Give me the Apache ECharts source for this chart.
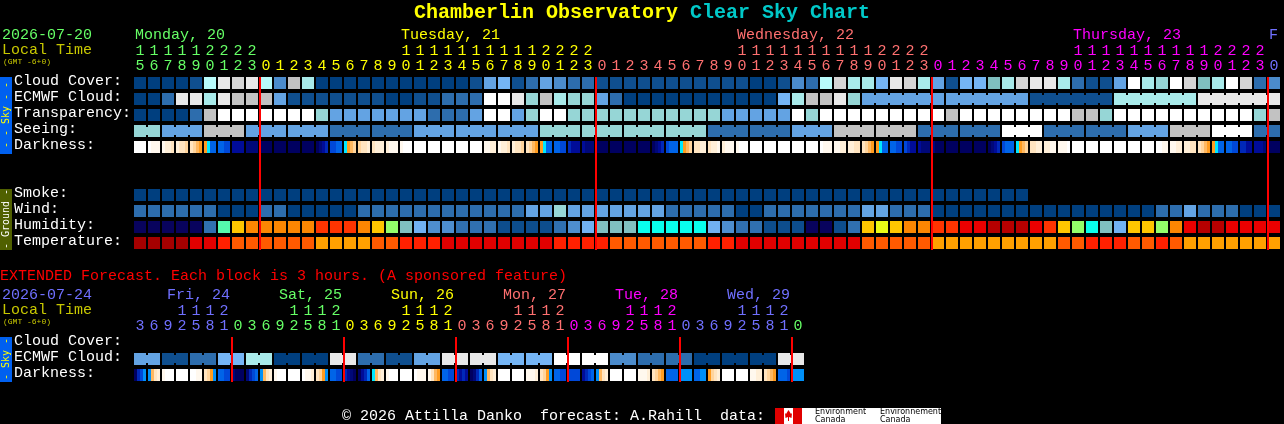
<!DOCTYPE html>
<html><head><meta charset="utf-8">
<style>html,body{margin:0;padding:0;background:#000}#c{width:1284px;height:424px}</style>
<script src="https://cdn.jsdelivr.net/npm/echarts@6/dist/echarts.min.js"></script>
</head><body><div id="c"></div>
<script>
const hourLabels=["15","16","17","18","19","20","21","22","23",
"0","1","2","3","4","5","6","7","8","9","10","11","12","13","14","15","16","17","18","19","20","21","22","23",
"0","1","2","3","4","5","6","7","8","9","10","11","12","13","14","15","16","17","18","19","20","21","22","23",
"0","1","2","3","4","5","6","7","8","9","10","11","12","13","14","15","16","17","18","19","20","21","22","23","0"];
const hourDayIdx=[0,0,0,0,0,0,0,0,0].concat(Array(24).fill(1),Array(24).fill(2),Array(24).fill(3),[4]);
const dayColors=["#66ff66","#ffff00","#ff7070","#ff00ff","#7070ff"];
const rowLabels=["Cloud Cover:","ECMWF Cloud:","Transparency:","Seeing:","Darkness:","","","Smoke:","Wind:","Humidity:","Temperature:"];
const cloudPalette=["#003f7f","#0f4f8f","#2d6dad","#4b8bcb","#63a3e3","#75b5f5","#7fbfbf","#96d6d6","#a8eaea","#b8fbfb","#c2c2c2","#d4d4d4","#e8e8e8","#ffffff"];
const humidityPalette=["#08035d","#0d4d8d","#3070b0","#4e8ece","#71b1f1","#80c0c0","#09feed","#55faad","#94fe6a","#eafb16","#fec600","#fc8602","#fe3401","#ea0000","#b70000"];
const temperaturePalette=["#a50000","#e10000","#ff2000","#ff5a00","#ffa000"];
const darknessPalette=["#ffffff","#fff8ee","#ffefd8","#ffe4c0","#ffd49c","#ffb860","#ff9c20","#00e8ff","#0090f8","#0064e8","#0048d8","#0028b8","#000c98","#000878","#000060"];

const cloudCover=[0,0,0,0,1,9,12,11,12,9,3,10,8,0,0,0,0,0,0,0,0,
0,0,0,1,4,5,1,2,4,3,2,2,1,1,1,1,1,1,1,1,1,1,1,0,0,1,3,2,9,11,8,
8,5,12,11,8,4,1,5,5,6,8,11,12,12,8,2,1,1,4,13,8,7,13,11,6,8,13,11,2,3];
const ecmwfCloud=[0,0,2,12,12,8,12,10,10,10,4,1,1,1,1,1,1,1,0,0,1,
1,2,2,2,13,13,12,7,10,8,7,7,4,2,0,0,0,0,0,0,0,0,0,0,0,5,8,10,10,12,7,
4,4,4,4,4,4,4,4,4,4,4,4,1,1,1,1,1,1,8,8,8,8,8,8,12,12,12,12,12,12];
const ecmwfGroupSizes=Array(52).fill(1).concat([6,6,6,6,6]);
const transparency=[0,0,0,0,2,10,13,13,13,13,13,13,13,7,4,4,4,4,4,4,4,
2,2,2,4,13,13,4,7,13,13,7,7,7,7,7,7,7,7,7,7,7,4,4,4,4,4,13,7,13,13,13,
13,13,13,13,13,13,10,13,13,13,13,13,13,13,13,10,10,7,13,13,13,13,13,13,13,13,13,13,7,10];
const seeingGroupSizes=[2].concat(Array(26).fill(3),[2]);
const seeingByGroup=[7,4,10,4,4,2,2,4,4,4,7,7,7,7,2,2,4,10,10,2,2,13,2,2,4,10,13,2];
const darkness=[[0,0,0,0],[0,1,1,1],[1,2,2,3],[2,3,3,4],[3,4,5,6],[6,7,9,9],[9,9,10,10],[12,12,12,12],[13,13,13,13],
[14,14,14,14],[14,14,14,14],[14,14,14,14],[14,14,14,14],[14,13,12,11],[10,10,9,9],[7,6,5,4],[4,3,3,2],[3,2,2,2],[2,1,1,1],[1,0,0,0],
[0,0,0,0],[0,0,0,0],[0,0,0,0],[0,0,0,0],[0,0,0,0],[1,1,2,2],[1,2,2,3],[2,3,3,4],[3,4,5,6],[6,7,9,9],[9,9,10,10],[11,12,12,12],[12,13,13,13],
[14,14,14,14],[14,14,14,14],[14,14,14,14],[14,14,14,14],[14,13,12,11],[10,9,9,9],[7,6,5,4],[3,3,2,2],[3,2,2,1],[2,1,1,1],[1,0,0,0],
[0,0,0,0],[0,0,0,0],[0,0,0,0],[0,0,0,0],[0,0,0,0],[0,1,1,1],[1,1,2,2],[2,2,3,3],[3,4,5,6],[6,7,9,9],[9,9,10,10],[10,11,12,12],[12,13,13,13],
[13,14,14,14],[14,14,14,14],[14,14,14,14],[14,14,14,14],[14,13,12,11],[10,9,9,9],[7,6,5,4],[3,3,2,2],[2,2,1,1],[1,1,1,0],
[0,0,0,0],[0,0,0,0],[0,0,0,0],[0,0,0,0],[0,0,0,0],[0,0,0,0],[0,0,1,1],[1,1,2,2],[2,2,3,3],[3,4,5,6],[6,7,9,9],[9,9,10,10],[11,11,12,12],[12,12,12,13],[14,14,14,14]];
const smoke=Array(64).fill(0);
const wind=[2,2,2,2,2,2,0,0,0,2,2,0,0,0,0,0,2,2,2,2,2,
2,2,2,2,2,2,2,4,4,7,4,4,4,4,4,4,4,2,2,2,2,2,0,0,2,2,2,2,2,2,2,
4,4,2,2,2,0,0,0,0,0,0,0,0,0,0,0,0,0,0,0,0,2,2,4,2,2,2,0,0,0];
const humidity=[0,0,0,0,0,2,7,10,11,11,11,11,11,12,12,12,11,10,8,5,4,
3,3,2,2,2,1,1,1,1,2,3,4,5,5,5,6,6,6,6,6,4,3,2,2,1,1,1,0,0,1,2,
10,9,10,11,11,12,12,13,13,14,14,14,13,12,10,8,6,5,4,10,10,8,11,13,14,14,13,13,13,13];
const temperature=[0,0,0,0,1,1,2,3,3,3,3,3,3,4,4,4,4,3,3,2,2,
2,1,1,1,1,1,1,1,1,2,2,2,2,3,3,3,3,3,3,3,2,2,1,1,1,1,1,1,1,1,1,
3,3,3,3,3,4,4,4,4,4,4,4,4,4,3,3,2,2,2,3,3,2,3,4,4,4,4,4,4,4];
const midnightCols=[9,33,57,81];

const extHourLabels=["3","6","9","12","15","18","21","0","3","6","9","12","15","18","21","0","3","6","9","12","15","18","21","0","3","6","9","12","15","18","21","0","3","6","9","12","15","18","21","0","3","6","9","12","15","18","21","0"];
const extHourDayIdx=[0,0,0,0,0,0,0].concat(Array(8).fill(1),Array(8).fill(2),Array(8).fill(3),Array(8).fill(4),Array(8).fill(5),[6]);
const extDayColors=["#7070ff","#66ff66","#ffff00","#ff7070","#ff00ff","#7070ff","#66ff66"];
const extRowLabels=["Cloud Cover:","ECMWF Cloud:","Darkness:"];
const extEcmwfByGroup=[4,1,2,5,8,0,0,12,2,1,4,12,12,5,5,13,13,3,2,2,0,0,0,12];
const extEcmwfGroupSizes=Array(24).fill(2);
const extDarkness=[[14,11,10,8],[8,5,3,2],[1,0,0,0],[0,0,0,0],[0,0,1,1],[3,4,6,8],[9,9,10,10],[13,14,14,14],
[13,11,10,9],[8,5,3,2],[1,0,0,0],[0,0,0,0],[0,1,1,2],[3,4,6,8],[9,9,10,10],[11,12,13,14],
[14,12,11,9],[7,5,3,2],[1,0,0,0],[0,0,0,0],[0,1,1,1],[1,3,5,6],[9,9,10,10],[11,12,11,12],
[14,13,11,9],[8,5,3,2],[0,0,0,0],[0,0,0,0],[1,1,1,2],[3,4,6,8],[9,9,10,10],[10,10,10,10],
[12,11,10,9],[8,5,3,2],[0,0,0,0],[0,0,0,0],[1,1,1,2],[3,4,5,6],[9,9,9,9],[8,8,8,8],
[9,9,8,8],[6,4,3,2],[0,0,0,0],[0,0,0,0],[1,1,2,2],[3,4,5,6],[9,9,9,10],[8,8,8,8]];
const extMidnightCols=[7,15,23,31,39,47];

const dayHeads=[["Monday, 20",135,"#66ff66"],["Tuesday, 21",401,"#ffff00"],["Wednesday, 22",737,"#ff7070"],["Thursday, 23",1073,"#ff00ff"],["F",1269,"#7070ff"]];
const extDayHeads=[["Fri, 24",167,"#7070ff"],["Sat, 25",279,"#66ff66"],["Sun, 26",391,"#ffff00"],["Mon, 27",503,"#ff7070"],["Tue, 28",615,"#ff00ff"],["Wed, 29",727,"#7070ff"]];

const MONO='"Liberation Mono","DejaVu Sans Mono",monospace';
function links(sizes){const o=[];sizes.forEach(s=>{for(let i=0;i<s;i++)o.push(i>0?1:0)});return o}
function expand(vals,sizes){const o=[];sizes.forEach((s,k)=>{for(let i=0;i<s;i++)o.push(vals[k])});return o}
function rowData(vals,row,lnk){return vals.map((v,c)=>[c,row,v,lnk?lnk[c]:0])}
function cells(xi,yi,data,pal){return {type:'custom',xAxisIndex:xi,yAxisIndex:yi,silent:true,data,encode:{x:0,y:1},clip:false,
 renderItem(p,api){const c=api.value(2),lk=api.value(3),pt=api.coord([api.value(0),api.value(1)]),col=pal[c];
  const kids=[{type:'rect',shape:{x:pt[0]-6,y:pt[1]-6,width:12,height:12},style:{fill:col}}];
  if(lk)kids.push({type:'rect',shape:{x:pt[0]-8,y:pt[1]-4,width:2,height:8},style:{fill:col}});
  return {type:'group',children:kids};}}}
function dark(xi,yi,row,steps){return {type:'custom',xAxisIndex:xi,yAxisIndex:yi,silent:true,clip:false,
 data:steps.map((s,c)=>[c,row,s[0],s[1],s[2],s[3]]),encode:{x:0,y:1},
 renderItem(p,api){const pt=api.coord([api.value(0),api.value(1)]);
  return {type:'group',children:[0,1,2,3].map(i=>({type:'rect',shape:{x:pt[0]-6+3*i,y:pt[1]-6,width:3,height:12},style:{fill:darknessPalette[api.value(2+i)]}}))};}}}
function redLines(xi,yi,cols,lastRow){return {type:'custom',xAxisIndex:xi,yAxisIndex:yi,silent:true,clip:false,z:10,
 data:cols.map(c=>[c,0]),encode:{x:0,y:1},
 renderItem(p,api){const c=api.value(0),a=api.coord([c,0]),b=api.coord([c,lastRow]);
  return {type:'rect',shape:{x:a[0]-7,y:a[1]-6,width:2,height:b[1]-a[1]+13},style:{fill:'#ff0000'}};}}}
function tx(text,x,y,fill,size,font){return {type:'text',x,y,silent:true,style:{text,fill,font:font||((size||15)+'px '+MONO),textVerticalAlign:'middle'}}}
function vtx(text,cx,cy,fill){return {type:'text',x:cx,y:cy,rotation:Math.PI/2,silent:true,style:{text,fill,font:'10px "DejaVu Sans Mono",monospace',textAlign:'center',textVerticalAlign:'middle'}}}
function rc(x,y,w,h,fill){return {type:'rect',silent:true,shape:{x,y,width:w,height:h},style:{fill}}}
function hourAxis(g,labels,days,cols){return {type:'category',gridIndex:g,position:'top',data:labels,axisLine:{show:false},axisTick:{show:false},splitLine:{show:false},
 axisLabel:{interval:0,hideOverlap:false,margin:1,fontFamily:MONO,fontSize:15,lineHeight:15,color:(v,i)=>cols[days[i]],formatter:v=>v.length>1?v[0]+'\n'+v[1]:v}}}
function rowAxis(g,labels,margin){return {type:'category',gridIndex:g,inverse:true,data:labels,axisLine:{show:false},axisTick:{show:false},splitLine:{show:false},
 axisLabel:{interval:0,align:'left',margin,formatter:v=>v?'{t|'+v+'}':'',rich:{t:{fontFamily:MONO,fontSize:15,color:'#ffffff',padding:[0,0,4,0]}}}}}

const LOGO='8px "DejaVu Sans",sans-serif';
const graphics=[
 tx("2026-07-20",2,35,"#66ff66"),tx("Local Time",2,50,"#c8c800"),tx("(GMT -6+0)",3,62,"#c8c800",8),
 tx("EXTENDED Forecast. Each block is 3 hours. (A sponsored feature)",0,276,"#ff0000"),
 tx("2026-07-24",2,295,"#7070ff"),tx("Local Time",2,310,"#c8c800"),tx("(GMT -6+0)",3,322,"#c8c800",8),
 rc(0,77,12,77,"#0060f0"),vtx("- - Sky - -",6,115,"#ffff00"),
 rc(0,189,12,61,"#506000"),vtx("- Ground -",6,219,"#ffffff"),
 rc(0,337,12,45,"#0060f0"),vtx("- Sky -",6,359,"#ffff00"),
 tx("© 2026 Attilla Danko  forecast: A.Rahill  data:",342,416,"#ffffff"),
 rc(775,408,166,16,"#ffffff"),rc(775,408,9,16,"#e00000"),rc(793,408,9,16,"#e00000"),
 {type:'polygon',silent:true,shape:{points:[[788.5,410],[791,414],[792,413],[791.5,418],[789,417],[789,421],[788,421],[788,417],[785.5,418],[785,413],[786,414]]},style:{fill:'#e00000'}},
 tx("Environment",815,412,"#000",0,LOGO),tx("Canada",815,420,"#000",0,LOGO),
 tx("Environnement",880,412,"#000",0,LOGO),tx("Canada",880,420,"#000",0,LOGO)
];
dayHeads.forEach(d=>graphics.push(tx(d[0],d[1],35,d[2])));
extDayHeads.forEach(d=>graphics.push(tx(d[0],d[1],295,d[2])));

const chart=echarts.init(document.getElementById('c'),null,{renderer:'canvas'});
chart.setOption({
 backgroundColor:'#000',animation:false,tooltip:{show:false},
 title:{left:414,top:1,padding:0,text:'{a|Chamberlin Observatory}{b| Clear Sky Chart}',textStyle:{rich:{
  a:{fontFamily:MONO,fontWeight:'bold',fontSize:20,color:'#ffff00',lineHeight:24},
  b:{fontFamily:MONO,fontWeight:'bold',fontSize:20,color:'#00c8c8',lineHeight:24}}}},
 grid:[{left:133,top:75,width:1148,height:176},{left:133,top:335,width:672,height:48}],
 xAxis:[hourAxis(0,hourLabels,hourDayIdx,dayColors),hourAxis(1,extHourLabels,extHourDayIdx,extDayColors)],
 yAxis:[rowAxis(0,rowLabels,119),rowAxis(1,extRowLabels,119)],
 graphic:{elements:graphics},
 series:[
  cells(0,0,rowData(cloudCover,0),cloudPalette),
  cells(0,0,rowData(ecmwfCloud,1,links(ecmwfGroupSizes)),cloudPalette),
  cells(0,0,rowData(transparency,2),cloudPalette),
  cells(0,0,rowData(expand(seeingByGroup,seeingGroupSizes),3,links(seeingGroupSizes)),cloudPalette),
  dark(0,0,4,darkness),
  cells(0,0,rowData(smoke,7),cloudPalette),
  cells(0,0,rowData(wind,8),cloudPalette),
  cells(0,0,rowData(humidity,9),humidityPalette),
  cells(0,0,rowData(temperature,10),temperaturePalette),
  redLines(0,0,midnightCols,10),
  cells(1,1,rowData(expand(extEcmwfByGroup,extEcmwfGroupSizes),1,links(extEcmwfGroupSizes)),cloudPalette),
  dark(1,1,2,extDarkness),
  redLines(1,1,extMidnightCols,2)
 ]
});
</script></body></html>
